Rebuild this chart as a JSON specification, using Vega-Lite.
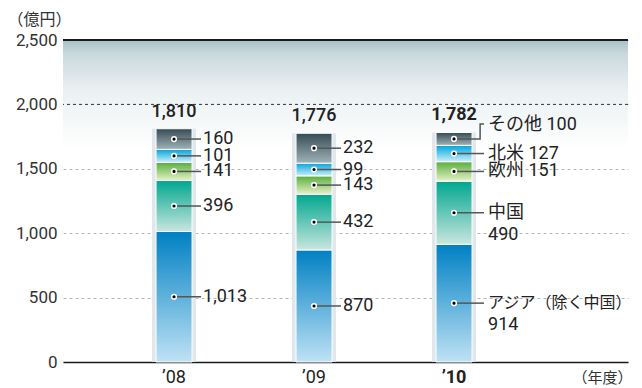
{
  "$schema": "https://vega.github.io/schema/vega-lite/v6.json",
  "width": 565,
  "height": 322,
  "autosize": "none",
  "padding": {"left": 63, "top": 40, "right": 14, "bottom": 26},
  "background": "white",
  "config": {
    "view": {"stroke": null},
    "font": "Roboto, Noto Sans CJK JP, sans-serif",
    "text": {"font": "Roboto, Noto Sans CJK JP, sans-serif", "fontSize": 18, "color": "#222"},
    "axis": {"labelFont": "Roboto, Noto Sans CJK JP, sans-serif", "titleFont": "Roboto, Noto Sans CJK JP, sans-serif"}
  },
  "datasets": {
    "seg": [
      {"year": "’08", "cat": "アジア", "order": 1, "value": 1013, "label1": "1,013", "label2": ""},
      {"year": "’08", "cat": "中国", "order": 2, "value": 396, "label1": "396", "label2": ""},
      {"year": "’08", "cat": "欧州", "order": 3, "value": 141, "label1": "141", "label2": ""},
      {"year": "’08", "cat": "北米", "order": 4, "value": 101, "label1": "101", "label2": ""},
      {"year": "’08", "cat": "その他", "order": 5, "value": 160, "label1": "160", "label2": ""},
      {"year": "’09", "cat": "アジア", "order": 1, "value": 870, "label1": "870", "label2": ""},
      {"year": "’09", "cat": "中国", "order": 2, "value": 432, "label1": "432", "label2": ""},
      {"year": "’09", "cat": "欧州", "order": 3, "value": 143, "label1": "143", "label2": ""},
      {"year": "’09", "cat": "北米", "order": 4, "value": 99, "label1": "99", "label2": ""},
      {"year": "’09", "cat": "その他", "order": 5, "value": 232, "label1": "232", "label2": ""},
      {"year": "’10", "cat": "アジア", "order": 1, "value": 914, "label1": "アジア（除く中国）", "label2": "914"},
      {"year": "’10", "cat": "中国", "order": 2, "value": 490, "label1": "中国", "label2": "490"},
      {"year": "’10", "cat": "欧州", "order": 3, "value": 151, "label1": "欧州 151", "label2": ""},
      {"year": "’10", "cat": "北米", "order": 4, "value": 127, "label1": "北米 127", "label2": ""},
      {"year": "’10", "cat": "その他", "order": 5, "value": 100, "label1": "その他 100", "label2": ""}
    ],
    "tot": [
      {"year": "’08", "total": 1810},
      {"year": "’09", "total": 1776},
      {"year": "’10", "total": 1782}
    ]
  },
  "layer": [
    {
      "data": {"values": [{}]},
      "mark": {"type": "rect", "color": {"gradient": "linear", "x1": 0, "y1": 0, "x2": 0, "y2": 1, "stops": [{"offset": 0, "color": "#a7bfc6"}, {"offset": 0.12, "color": "#c9d8dc"}, {"offset": 0.45, "color": "#eaf0f2"}, {"offset": 1, "color": "#ffffff"}]}},
      "encoding": {"y": {"datum": 2500, "type": "quantitative"}, "y2": {"datum": 1650}}
    },
    {
      "data": {"values": [{}]},
      "mark": {"type": "rule", "color": "#333", "strokeWidth": 1, "strokeDash": [3, 3]},
      "encoding": {"y": {"datum": 2000, "type": "quantitative"}}
    },
    {
      "data": {"values": [{}]},
      "mark": {"type": "rule", "color": "#1a1a1a", "strokeWidth": 2},
      "encoding": {"y": {"datum": 2500, "type": "quantitative"}}
    },
    {
      "data": {"name": "tot"},
      "mark": {"type": "bar", "width": 44, "color": "#e0e8ec"},
      "encoding": {
        "x": {
          "field": "year", "type": "nominal",
          "scale": {"paddingInner": 0, "paddingOuter": 0.518, "align": 0.283},
          "axis": {
            "title": "（年度）", "titleFontSize": 15, "titleFontWeight": "normal", "titleColor": "#333",
            "titleAnchor": "end", "titleAlign": "right", "titleX": 569, "titleY": 15, "titleBaseline": "middle",
            "labelAngle": 0, "labelFontSize": 18, "labelColor": "#222", "labelPadding": 6,
            "labelFontWeight": {"condition": {"test": "datum.value === '’10'", "value": "bold"}, "value": "normal"},
            "ticks": false, "domainColor": "#1a1a1a", "domainWidth": 1.5, "grid": false
          }
        },
        "y": {
          "field": "total", "type": "quantitative",
          "scale": {"domain": [0, 2500], "nice": false},
          "axis": {
            "title": "（億円）", "titleAngle": 0, "titleFontSize": 16, "titleFontWeight": "normal", "titleColor": "#333",
            "titleX": -56, "titleY": -21, "titleAlign": "left", "titleBaseline": "middle",
            "values": [0, 500, 1000, 1500, 2000, 2500],
            "labelExpr": "format(datum.value, ',')",
            "labelFontSize": 17, "labelColor": "#333", "labelPadding": 6,
            "ticks": false, "domain": false,
            "grid": true, "gridColor": "#b5b5b5", "gridDash": [3, 3], "gridWidth": 1
          }
        }
      }
    },
    {
      "data": {"name": "seg"},
      "transform": [
        {"stack": "value", "groupby": ["year"], "sort": [{"field": "order", "order": "ascending"}], "as": ["y0", "y1"]},
        {"calculate": "(datum.y0 + datum.y1) / 2", "as": "mid"}
      ],
      "layer": [
        {
          "transform": [{"filter": "datum.cat === 'アジア'"}],
          "mark": {"type": "bar", "width": 36, "stroke": "white", "strokeWidth": 1, "color": {"gradient": "linear", "x1": 0, "y1": 0, "x2": 0, "y2": 1, "stops": [{"offset": 0, "color": "#0080c3"}, {"offset": 1, "color": "#bfe2f5"}]}},
          "encoding": {"x": {"field": "year", "type": "nominal"}, "y": {"field": "y0", "type": "quantitative"}, "y2": {"field": "y1"}}
        },
        {
          "transform": [{"filter": "datum.cat === '中国'"}],
          "mark": {"type": "bar", "width": 36, "stroke": "white", "strokeWidth": 1, "color": {"gradient": "linear", "x1": 0, "y1": 0, "x2": 0, "y2": 1, "stops": [{"offset": 0, "color": "#00a78f"}, {"offset": 1, "color": "#c9e6df"}]}},
          "encoding": {"x": {"field": "year", "type": "nominal"}, "y": {"field": "y0", "type": "quantitative"}, "y2": {"field": "y1"}}
        },
        {
          "transform": [{"filter": "datum.cat === '欧州'"}],
          "mark": {"type": "bar", "width": 36, "stroke": "white", "strokeWidth": 1, "color": {"gradient": "linear", "x1": 0, "y1": 0, "x2": 0, "y2": 1, "stops": [{"offset": 0, "color": "#58ad3b"}, {"offset": 1, "color": "#e6f1c8"}]}},
          "encoding": {"x": {"field": "year", "type": "nominal"}, "y": {"field": "y0", "type": "quantitative"}, "y2": {"field": "y1"}}
        },
        {
          "transform": [{"filter": "datum.cat === '北米'"}],
          "mark": {"type": "bar", "width": 36, "stroke": "white", "strokeWidth": 1, "color": {"gradient": "linear", "x1": 0, "y1": 0, "x2": 0, "y2": 1, "stops": [{"offset": 0, "color": "#00a4dc"}, {"offset": 1, "color": "#cdeefa"}]}},
          "encoding": {"x": {"field": "year", "type": "nominal"}, "y": {"field": "y0", "type": "quantitative"}, "y2": {"field": "y1"}}
        },
        {
          "transform": [{"filter": "datum.cat === 'その他'"}],
          "mark": {"type": "bar", "width": 36, "stroke": "white", "strokeWidth": 1, "color": {"gradient": "linear", "x1": 0, "y1": 0, "x2": 0, "y2": 1, "stops": [{"offset": 0, "color": "#354b53"}, {"offset": 1, "color": "#9fb2b8"}]}},
          "encoding": {"x": {"field": "year", "type": "nominal"}, "y": {"field": "y0", "type": "quantitative"}, "y2": {"field": "y1"}}
        },
        {
          "transform": [{"filter": "datum.year !== '’10'"}],
          "mark": {"type": "point", "shape": "M0,0H1", "size": 2916, "filled": false, "stroke": "#555", "strokeWidth": 1.5, "opacity": 1},
          "encoding": {"x": {"field": "year", "type": "nominal"}, "y": {"field": "mid", "type": "quantitative"}}
        },
        {
          "transform": [{"filter": "datum.year === '’10' && datum.cat !== 'その他'"}],
          "mark": {"type": "point", "shape": "M0,0H1", "size": 3600, "filled": false, "stroke": "#555", "strokeWidth": 1.5, "opacity": 1},
          "encoding": {"x": {"field": "year", "type": "nominal"}, "y": {"field": "mid", "type": "quantitative"}}
        },
        {
          "transform": [{"filter": "datum.year === '’10' && datum.cat === 'その他'"}],
          "mark": {"type": "point", "shape": "M0,0H0.87V-0.5H1", "size": 3600, "filled": false, "stroke": "#555", "strokeWidth": 1.5, "opacity": 1},
          "encoding": {"x": {"field": "year", "type": "nominal"}, "y": {"field": "mid", "type": "quantitative"}}
        },
        {
          "mark": {"type": "point", "shape": "circle", "size": 22, "filled": true, "color": "#000", "stroke": "white", "strokeWidth": 1.5, "opacity": 1},
          "encoding": {"x": {"field": "year", "type": "nominal"}, "y": {"field": "mid", "type": "quantitative"}}
        },
        {
          "transform": [{"filter": "datum.year !== '’10'"}],
          "mark": {"type": "text", "align": "left", "baseline": "middle", "dx": 29, "fontSize": 18},
          "encoding": {"x": {"field": "year", "type": "nominal"}, "y": {"field": "mid", "type": "quantitative"}, "text": {"field": "label1"}}
        },
        {
          "transform": [{"filter": "datum.year === '’10' && datum.cat !== 'その他' && datum.cat !== 'アジア'"}],
          "mark": {"type": "text", "align": "left", "baseline": "middle", "dx": 34, "fontSize": 18},
          "encoding": {"x": {"field": "year", "type": "nominal"}, "y": {"field": "mid", "type": "quantitative"}, "text": {"field": "label1"}}
        },
        {
          "transform": [{"filter": "datum.year === '’10' && datum.cat === 'アジア'"}],
          "mark": {"type": "text", "align": "left", "baseline": "middle", "dx": 34, "fontSize": 16},
          "encoding": {"x": {"field": "year", "type": "nominal"}, "y": {"field": "mid", "type": "quantitative"}, "text": {"field": "label1"}}
        },
        {
          "transform": [{"filter": "datum.year === '’10' && datum.label2 !== ''"}],
          "mark": {"type": "text", "align": "left", "baseline": "middle", "dx": 34, "dy": 22, "fontSize": 18},
          "encoding": {"x": {"field": "year", "type": "nominal"}, "y": {"field": "mid", "type": "quantitative"}, "text": {"field": "label2"}}
        },
        {
          "transform": [{"filter": "datum.year === '’10' && datum.cat === 'その他'"}],
          "mark": {"type": "text", "align": "left", "baseline": "middle", "dx": 34, "dy": -14, "fontSize": 18},
          "encoding": {"x": {"field": "year", "type": "nominal"}, "y": {"field": "mid", "type": "quantitative"}, "text": {"field": "label1"}}
        }
      ]
    },
    {
      "data": {"name": "tot"},
      "transform": [{"filter": "datum.year !== '’10'"}],
      "mark": {"type": "text", "align": "center", "baseline": "middle", "dy": -17, "fontSize": 18, "fontWeight": 500},
      "encoding": {"x": {"field": "year", "type": "nominal"}, "y": {"field": "total", "type": "quantitative"}, "text": {"field": "total", "type": "quantitative", "format": ","}}
    },
    {
      "data": {"name": "tot"},
      "transform": [{"filter": "datum.year === '’10'"}],
      "mark": {"type": "text", "align": "center", "baseline": "middle", "dy": -17, "fontSize": 18, "fontWeight": "bold"},
      "encoding": {"x": {"field": "year", "type": "nominal"}, "y": {"field": "total", "type": "quantitative"}, "text": {"field": "total", "type": "quantitative", "format": ","}}
    }
  ]
}
